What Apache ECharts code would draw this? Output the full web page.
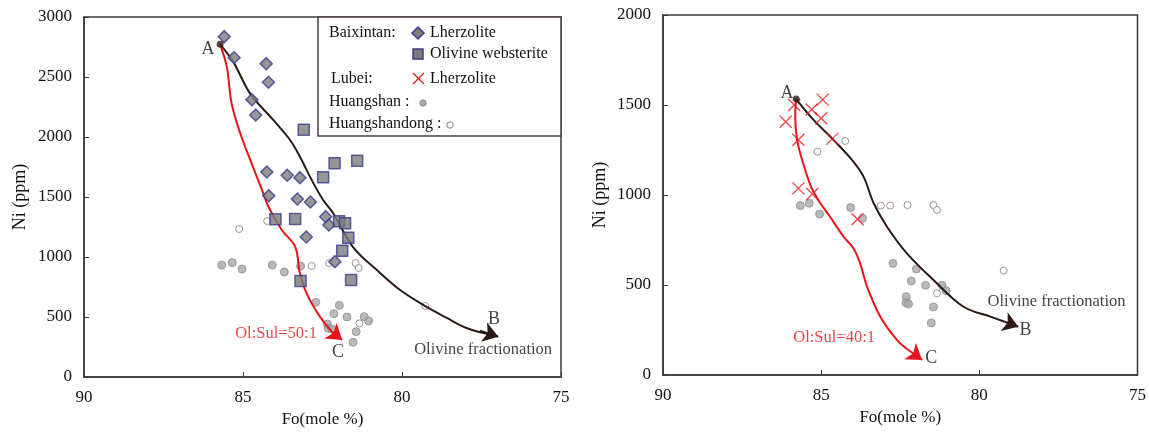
<!DOCTYPE html>
<html>
<head>
<meta charset="utf-8">
<script src="https://cdn.jsdelivr.net/npm/echarts@6/dist/echarts.min.js"></script>
<style>
  html, body { margin: 0; padding: 0; background: #fff; }
  #chart { width: 1149px; height: 436px; }
</style>
</head>
<body>
<div id="chart"></div>
<script>
// ---- Fo (mole %) vs Ni (ppm) ----
const xTicks = [90, 85, 80, 75];
const yTicksLeft = [0, 500, 1000, 1500, 2000, 2500, 3000];
const yTicksRight = [0, 500, 1000, 1500, 2000];

// Left panel: Baixintan, Huangshan, Huangshandong
const baixintanLherzolite = [[85.59,2836],[85.28,2661],[84.27,2611],[84.20,2456],[84.72,2311],[84.60,2183],[84.25,1708],[83.61,1681],[83.21,1661],[84.19,1511],[83.29,1483],[82.88,1458],[82.40,1336],[82.30,1267],[83.01,1167],[82.11,961]];
const baixintanWebsterite = [[83.09,2061],[82.48,1664],[82.12,1781],[81.41,1803],[83.98,1314],[83.36,1317],[81.98,1297],[81.79,1281],[81.69,1161],[81.88,1053],[81.60,808],[83.19,800]];
const huangshanLeft = [[85.67,933],[85.34,953],[85.03,900],[84.08,933],[83.70,875],[83.19,925],[82.71,622],[81.97,597],[82.14,528],[81.73,500],[81.19,503],[81.05,467],[82.35,442],[82.32,406],[82.21,400],[81.44,378],[81.54,289]];
const huangshandongLeft = [[85.12,1233],[84.24,1300],[82.84,925],[82.29,950],[81.46,950],[81.36,908],[81.34,447],[79.27,592]];
const olivineCurveLeft = [[85.72,2772],[85.31,2628],[84.78,2364],[84.05,2142],[83.52,1975],[83.21,1836],[82.84,1642],[82.48,1475],[82.17,1367],[81.54,1083],[80.69,867],[80.06,725],[79.28,592],[78.59,492],[77.97,408],[77.30,358]];
const sulfideCurveLeft = [[85.72,2772],[85.51,2586],[85.36,2281],[85.09,2033],[84.69,1753],[84.40,1558],[84.20,1419],[83.78,1225],[83.36,1086],[83.21,864],[83.00,697],[82.58,503],[82.16,364],[82.00,330]];
const arrowLeftB = [[77.55,385],[76.97,336]];
const arrowLeftC = [[82.20,375],[81.88,308]];
const labelsLeft = [[86.10,2733,'A','#111'],[77.11,483,'B','#111'],[82.01,208,'C','#111'],[83.96,358,'Ol:Sul=50:1','#e8141c'],[77.45,225,'Olivine fractionation','#111']];

// Right panel: Lubei, Huangshan, Huangshandong
const lubeiLherzolite = [[85.85,1500],[85.30,1475],[84.95,1530],[85.00,1426],[86.12,1407],[85.72,1307],[84.65,1312],[85.72,1037],[85.28,1006],[83.85,865]];
const huangshanRight = [[85.66,941],[85.38,954],[85.05,894],[84.07,930],[83.69,871],[82.73,620],[81.99,589],[82.15,522],[81.70,498],[81.18,498],[81.05,468],[82.31,435],[82.32,402],[82.24,394],[81.45,378],[81.52,289]];
const huangshandongRight = [[84.24,1300],[85.12,1241],[83.11,941],[82.82,941],[82.27,944],[81.45,944],[81.34,917],[81.34,454],[79.23,580]];
const olivineCurveRight = [[85.79,1533],[85.24,1417],[84.61,1306],[84.02,1194],[83.66,1102],[83.34,954],[82.92,824],[82.29,676],[81.45,528],[80.50,379],[79.65,324],[79.20,296]];
const sulfideCurveRight = [[85.79,1533],[85.82,1435],[85.76,1306],[85.60,1194],[85.32,1046],[85.09,972],[84.72,879],[84.29,768],[83.98,704],[83.77,621],[83.55,491],[83.13,324],[82.60,194],[82.25,140]];
const arrowRightB = [[79.20,296],[78.77,268]];
const arrowRightC = [[82.25,140],[81.81,83]];
const labelsRight = [[86.08,1567,'A','#111'],[78.54,250,'B','#111'],[81.52,94,'C','#111'],[84.59,206,'Ol:Sul=40:1','#e8141c'],[77.56,406,'Olivine fractionation','#111']];

const FONT = "'Liberation Serif', 'Times New Roman', serif";
const RED = '#e8141c';
const DARK = '#2a1914';
const AXIS = '#3a3a3a';

const diamondStyle = { color: '#7d7d7d', borderColor: '#3b3b8f', borderWidth: 1.5 };
const squareStyle = { color: '#7a7a7a', borderColor: '#3b3b8f', borderWidth: 1.5 };
const dotStyle = { color: '#a8a8a8', borderColor: '#8f8f8f', borderWidth: 1 };
const hollowStyle = { color: '#ffffff', borderColor: '#8c7b7b', borderWidth: 1 };
const crossPath = 'path://M0,0L10,10M10,0L0,10';

function xAxisCfg(gridIndex) {
  return {
    gridIndex, type: 'value', inverse: true, min: 75, max: 90, interval: 5,
    name: 'Fo(mole %)', nameLocation: 'middle', nameGap: 34,
    nameTextStyle: { fontFamily: FONT, fontSize: 17, color: '#111' },
    axisLine: { show: true, lineStyle: { color: AXIS, width: 1.5 } },
    axisTick: { show: true, inside: true, length: 5, lineStyle: { color: AXIS } },
    axisLabel: { fontFamily: FONT, fontSize: 17, color: '#111', margin: 12,
      formatter: v => xTicks.includes(v) ? String(v) : '' },
    splitLine: { show: false }
  };
}
function yAxisCfg(gridIndex, max, ticks, gap) {
  return {
    gridIndex, type: 'value', min: 0, max, interval: 500,
    name: 'Ni (ppm)', nameLocation: 'middle', nameGap: gap,
    nameTextStyle: { fontFamily: FONT, fontSize: 18, color: '#111' },
    axisLine: { show: true, lineStyle: { color: AXIS, width: 1.5 } },
    axisTick: { show: true, inside: true, length: 5, lineStyle: { color: AXIS } },
    axisLabel: { fontFamily: FONT, fontSize: 17, color: '#111', margin: 12,
      formatter: v => ticks.includes(v) ? String(v) : '' },
    splitLine: { show: false }
  };
}

function scatter(idx, data, symbol, size, style, z) {
  return { type: 'scatter', xAxisIndex: idx, yAxisIndex: idx, data, symbol, symbolSize: size,
    itemStyle: style, z: z || 3, silent: true };
}
function curve(idx, data, color) {
  return { type: 'line', xAxisIndex: idx, yAxisIndex: idx, data, smooth: 0.35, symbol: 'none',
    lineStyle: { color, width: 2 }, z: 4, silent: true };
}
function arrow(idx, seg, color) {
  return { type: 'lines', coordinateSystem: 'cartesian2d', xAxisIndex: idx, yAxisIndex: idx,
    data: [{ coords: seg }], symbol: ['none', 'arrow'], symbolSize: [0, 15],
    lineStyle: { color, width: 2, opacity: 1 }, z: 4, silent: true };
}
function labels(idx, items) {
  return { type: 'scatter', xAxisIndex: idx, yAxisIndex: idx, symbol: 'circle', symbolSize: 1,
    itemStyle: { color: 'rgba(0,0,0,0)' }, z: 6, silent: true,
    data: items.map(d => ({ value: [d[0], d[1]],
      label: { show: true, position: 'inside', formatter: d[2], color: d[3],
        fontFamily: FONT, fontSize: d[2].length === 1 ? 18 : 16.5 } })) };
}
function pointA(idx, p) {
  return scatter(idx, [p], 'circle', 7, { color: DARK }, 5);
}

// legend block drawn in the upper right of the left panel
const legendX = 318, legendY = 17;
const legendGraphics = [
  { type: 'rect', shape: { x: legendX, y: legendY, width: 243, height: 119 },
    style: { fill: '#fff', stroke: '#4a3c3c', lineWidth: 1.5 }, z: 10 },
  { type: 'text', x: 329, y: 33, style: { text: 'Baixintan:', font: `16px ${FONT}`, fill: '#111', textVerticalAlign: 'middle' }, z: 11 },
  { type: 'polygon', shape: { points: [[418,27],[424,33],[418,39],[412,33]] },
    style: { fill: '#7d7d7d', stroke: '#3b3b8f', lineWidth: 1.5 }, z: 11 },
  { type: 'text', x: 430, y: 33, style: { text: 'Lherzolite', font: `16px ${FONT}`, fill: '#111', textVerticalAlign: 'middle' }, z: 11 },
  { type: 'rect', shape: { x: 413, y: 49, width: 10, height: 10 },
    style: { fill: '#7a7a7a', stroke: '#3b3b8f', lineWidth: 1.5 }, z: 11 },
  { type: 'text', x: 430, y: 54, style: { text: 'Olivine websterite', font: `16px ${FONT}`, fill: '#111', textVerticalAlign: 'middle' }, z: 11 },
  { type: 'text', x: 331, y: 79, style: { text: 'Lubei:', font: `16px ${FONT}`, fill: '#111', textVerticalAlign: 'middle' }, z: 11 },
  { type: 'polyline', shape: { points: [[413,73],[424,84]] }, style: { stroke: RED, lineWidth: 1.3 }, z: 11 },
  { type: 'polyline', shape: { points: [[424,73],[413,84]] }, style: { stroke: RED, lineWidth: 1.3 }, z: 11 },
  { type: 'text', x: 430, y: 79, style: { text: 'Lherzolite', font: `16px ${FONT}`, fill: '#111', textVerticalAlign: 'middle' }, z: 11 },
  { type: 'text', x: 329, y: 102, style: { text: 'Huangshan :', font: `16px ${FONT}`, fill: '#111', textVerticalAlign: 'middle' }, z: 11 },
  { type: 'circle', shape: { cx: 423, cy: 103, r: 3.2 }, style: { fill: '#a8a8a8', stroke: '#8f8f8f', lineWidth: 1 }, z: 11 },
  { type: 'text', x: 329, y: 124, style: { text: 'Huangshandong :', font: `16px ${FONT}`, fill: '#111', textVerticalAlign: 'middle' }, z: 11 },
  { type: 'circle', shape: { cx: 450, cy: 125, r: 3.2 }, style: { fill: '#fff', stroke: '#8c7b7b', lineWidth: 1 }, z: 11 }
];

const chart = echarts.init(document.getElementById('chart'), null, { renderer: 'canvas' });
chart.setOption({
  animation: false,
  backgroundColor: '#fff',
  grid: [
    { left: 84, right: 588, top: 17, bottom: 59, show: true, borderColor: AXIS, borderWidth: 1.5 },
    { left: 663, right: 11, top: 15, bottom: 61, show: true, borderColor: AXIS, borderWidth: 1.5 }
  ],
  xAxis: [xAxisCfg(0), xAxisCfg(1)],
  yAxis: [yAxisCfg(0, 3000, yTicksLeft, 55), yAxisCfg(1, 2000, yTicksRight, 54)],
  graphic: legendGraphics,
  series: [
    // left panel
    scatter(0, huangshanLeft, 'circle', 8, dotStyle, 2),
    scatter(0, huangshandongLeft, 'circle', 7, hollowStyle, 2),
    curve(0, olivineCurveLeft, DARK),
    curve(0, sulfideCurveLeft, RED),
    arrow(0, arrowLeftB, DARK),
    arrow(0, arrowLeftC, RED),
    scatter(0, baixintanLherzolite, 'diamond', 12, diamondStyle, 5),
    scatter(0, baixintanWebsterite, 'rect', 11, squareStyle, 5),
    pointA(0, olivineCurveLeft[0]),
    labels(0, labelsLeft),
    // right panel
    scatter(1, huangshanRight, 'circle', 8, dotStyle, 2),
    scatter(1, huangshandongRight, 'circle', 7, hollowStyle, 2),
    curve(1, olivineCurveRight, DARK),
    curve(1, sulfideCurveRight, RED),
    arrow(1, arrowRightB, DARK),
    arrow(1, arrowRightC, RED),
    scatter(1, lubeiLherzolite, crossPath, 12, { color: 'rgba(0,0,0,0)', borderColor: RED, borderWidth: 1.3 }, 5),
    pointA(1, olivineCurveRight[0]),
    labels(1, labelsRight)
  ]
});
</script>
</body>
</html>
